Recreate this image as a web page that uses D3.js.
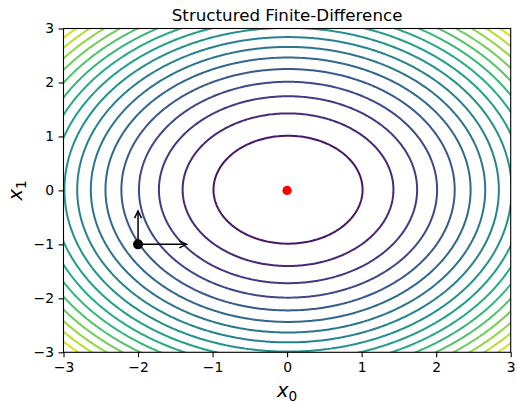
<!DOCTYPE html>
<html>
<head>
<meta charset="utf-8">
<script src="https://cdn.jsdelivr.net/npm/d3@7"></script>
<style>
  html, body { margin: 0; padding: 0; background: #fff; }
  svg { display: block; font-family: "DejaVu Sans", sans-serif; }
</style>
</head>
<body>
<svg id="chart" width="517" height="404"></svg>
<script>
// Axis setup
const xDomain = [-3, 3];
const yDomain = [-3, 3];
const xTicks = [-3, -2, -1, 0, 1, 2, 3];
const yTicks = [-3, -2, -1, 0, 1, 2, 3];

// Contour levels of f(x0, x1) = x0^2 + x1^2 and the colour-map range
const levels = [1, 2, 3, 4, 5, 6, 7, 8, 9, 10, 11, 12, 13, 14, 15, 16, 17];
const colorRange = [0, 18];

// Minimum and the sample point with its finite-difference steps
const minimum = [0, 0];
const samplePoint = [-2, -1];
const stepVectors = [[0.65, 0], [0, 0.62]];

const title = "Structured Finite-Difference";

const svg = d3.select("#chart");
const plotLeft = 63.5, plotRight = 510.7, plotTop = 28.5, plotBottom = 352.3;

const x = d3.scaleLinear().domain(xDomain).range([plotLeft, plotRight]);
const y = d3.scaleLinear().domain(yDomain).range([plotBottom, plotTop]);

// Sample the objective on a grid slightly larger than the axes, then clip
const g0 = -3.5, g1 = 3.5, n = 281;
const step = (g1 - g0) / (n - 1);
const values = new Array(n * n);
for (let j = 0; j < n; j++) {
  const yv = g0 + j * step;
  for (let i = 0; i < n; i++) {
    const xv = g0 + i * step;
    values[j * n + i] = xv * xv + yv * yv;
  }
}
const contours = d3.contours().size([n, n]).thresholds(levels)(values);

const proj = d3.geoTransform({
  point(px, py) {
    this.stream.point(x(g0 + px * step), y(g0 + py * step));
  }
});
const path = d3.geoPath(proj);
const color = d => d3.interpolateViridis((d - colorRange[0]) / (colorRange[1] - colorRange[0]));

svg.append("defs").append("clipPath").attr("id", "plotClip")
  .append("rect").attr("x", plotLeft).attr("y", plotTop)
  .attr("width", plotRight - plotLeft).attr("height", plotBottom - plotTop);

svg.append("g").attr("clip-path", "url(#plotClip)")
  .selectAll("path").data(contours).join("path")
  .attr("d", path)
  .attr("fill", "none")
  .attr("stroke", d => color(d.value))
  .attr("stroke-width", 2);

// Step arrows
const arrows = svg.append("g").attr("stroke", "#000").attr("stroke-width", 1.5).attr("fill", "none");
stepVectors.forEach(v => {
  const x1 = x(samplePoint[0]), y1 = y(samplePoint[1]);
  const x2 = x(samplePoint[0] + v[0]), y2 = y(samplePoint[1] + v[1]);
  arrows.append("line").attr("x1", x1).attr("y1", y1).attr("x2", x2).attr("y2", y2);
  const ang = Math.atan2(y2 - y1, x2 - x1);
  const hl = 8, hw = 0.45;
  arrows.append("path").attr("d",
    `M${x2 - hl * Math.cos(ang - hw)},${y2 - hl * Math.sin(ang - hw)}` +
    `L${x2},${y2}` +
    `L${x2 - hl * Math.cos(ang + hw)},${y2 - hl * Math.sin(ang + hw)}`);
});

svg.append("circle").attr("cx", x(samplePoint[0])).attr("cy", y(samplePoint[1]))
  .attr("r", 5).attr("fill", "#000");
svg.append("circle").attr("cx", x(minimum[0])).attr("cy", y(minimum[1]))
  .attr("r", 4.6).attr("fill", "#ff0000");

// Axes
const fmt = d => d < 0 ? "\u2212" + Math.abs(d) : String(d);
const xAxis = svg.append("g").attr("transform", `translate(0,${plotBottom})`)
  .call(d3.axisBottom(x).tickValues(xTicks).tickSize(4.9).tickPadding(4.6).tickFormat(fmt));
const yAxis = svg.append("g").attr("transform", `translate(${plotLeft},0)`)
  .call(d3.axisLeft(y).tickValues(yTicks).tickSize(4.9).tickPadding(4.6).tickFormat(fmt));
[xAxis, yAxis].forEach(a => {
  a.select(".domain").remove();
  a.selectAll(".tick line").attr("stroke", "#000").attr("stroke-width", 1.1);
  a.selectAll(".tick text").attr("fill", "#000")
    .style("font-family", "'DejaVu Sans', sans-serif").style("font-size", "13.9px");
});

svg.append("rect").attr("x", plotLeft).attr("y", plotTop)
  .attr("width", plotRight - plotLeft).attr("height", plotBottom - plotTop)
  .attr("fill", "none").attr("stroke", "#000").attr("stroke-width", 1.1);

// Title and axis labels
svg.append("text").attr("x", (plotLeft + plotRight) / 2).attr("y", 21)
  .attr("text-anchor", "middle").style("font-size", "16.7px").attr("fill", "#000")
  .text(title);

const xl = svg.append("text").attr("x", (plotLeft + plotRight) / 2).attr("y", 397)
  .attr("text-anchor", "middle").style("font-size", "19.4px").attr("fill", "#000");
xl.append("tspan").style("font-style", "italic").text("x");
xl.append("tspan").attr("dy", 4).style("font-size", "13.6px").text("0");

const yl = svg.append("text")
  .attr("transform", `translate(22,${(plotTop + plotBottom) / 2}) rotate(-90)`)
  .attr("text-anchor", "middle").style("font-size", "19.4px").attr("fill", "#000");
yl.append("tspan").style("font-style", "italic").text("x");
yl.append("tspan").attr("dy", 4).style("font-size", "13.6px").text("1");
</script>
</body>
</html>
